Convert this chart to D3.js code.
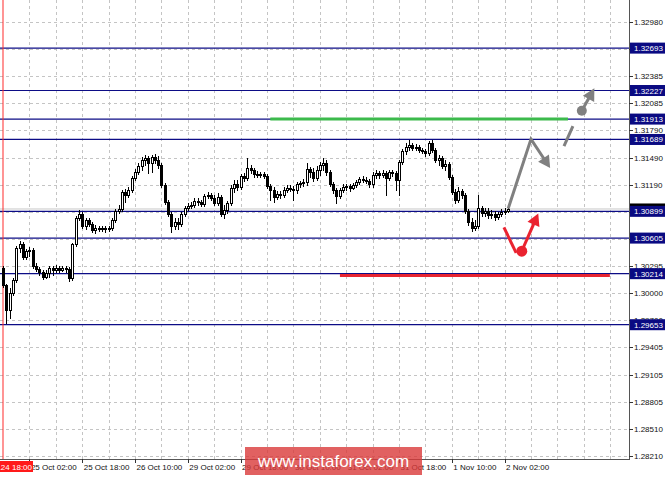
<!DOCTYPE html>
<html><head><meta charset="utf-8">
<script src="https://cdn.jsdelivr.net/npm/d3@7"></script>
<style>body{margin:0;background:#fff;} svg{display:block;font-family:"Liberation Sans",Arial,sans-serif;}</style>
</head><body><svg id="c" width="665" height="477"></svg>
<script>
// ---- DATA (EURUSD-like H1 candles, bar index 0 = 24 Oct 18:00) ----
const open = [1.30274,1.30087,1.29812,1.29999,1.30142,1.30494,1.30538,1.30395,1.30461,1.30472,
 1.30296,1.30263,1.30230,1.30175,1.30219,1.30274,1.30252,1.30274,1.30252,1.30274,
 1.30263,1.30164,1.30538,1.30824,1.30868,1.30736,1.30802,1.30758,1.30692,1.30714,
 1.30703,1.30714,1.30703,1.30714,1.30802,1.30901,1.30923,1.31110,1.31077,1.31132,
 1.31264,1.31330,1.31396,1.31462,1.31484,1.31429,1.31495,1.31462,1.31407,1.31187,
 1.31000,1.30868,1.30736,1.30780,1.30758,1.30868,1.30934,1.30956,1.30967,1.31011,
 1.31000,1.30978,1.31066,1.31077,1.31044,1.30989,1.31055,1.30868,1.30912,1.30989,
 1.31154,1.31198,1.31165,1.31286,1.31264,1.31374,1.31352,1.31308,1.31297,1.31308,
 1.31286,1.31176,1.31132,1.31055,1.31088,1.31077,1.31132,1.31154,1.31143,1.31132,
 1.31198,1.31209,1.31220,1.31363,1.31330,1.31264,1.31352,1.31407,1.31429,1.31330,
 1.31198,1.31132,1.31066,1.31132,1.31165,1.31176,1.31154,1.31187,1.31220,1.31253,
 1.31242,1.31231,1.31198,1.31297,1.31319,1.31297,1.31319,1.31264,1.31330,1.31319,
 1.31242,1.31440,1.31561,1.31605,1.31627,1.31594,1.31605,1.31572,1.31561,1.31539,
 1.31649,1.31572,1.31462,1.31484,1.31396,1.31418,1.31275,1.31110,1.31022,1.31121,
 1.31077,1.30901,1.30780,1.30714,1.30736,1.30934,1.30879,1.30901,1.30857,1.30868,
 1.30835,1.30868,1.30890,1.30901];
const high = [1.30296,1.30098,1.30054,1.30164,1.30516,1.30571,1.30560,1.30483,1.30505,1.30494,
 1.30329,1.30285,1.30252,1.30252,1.30296,1.30296,1.30307,1.30296,1.30296,1.30296,
 1.30285,1.30549,1.30846,1.30912,1.30890,1.30824,1.30824,1.30780,1.30747,1.30736,
 1.30736,1.30736,1.30736,1.30824,1.30923,1.30967,1.31132,1.31143,1.31165,1.31286,
 1.31363,1.31429,1.31495,1.31517,1.31506,1.31517,1.31528,1.31506,1.31429,1.31209,
 1.31022,1.30890,1.30824,1.30824,1.30890,1.30956,1.30989,1.31000,1.31044,1.31044,
 1.31022,1.31088,1.31110,1.31099,1.31077,1.31099,1.31077,1.30967,1.31011,1.31187,
 1.31242,1.31242,1.31308,1.31319,1.31484,1.31407,1.31374,1.31341,1.31330,1.31330,
 1.31308,1.31198,1.31165,1.31121,1.31121,1.31165,1.31187,1.31187,1.31176,1.31220,
 1.31231,1.31253,1.31429,1.31385,1.31374,1.31396,1.31440,1.31484,1.31462,1.31352,
 1.31220,1.31154,1.31154,1.31198,1.31198,1.31198,1.31209,1.31242,1.31275,1.31286,
 1.31275,1.31253,1.31330,1.31352,1.31341,1.31352,1.31341,1.31352,1.31352,1.31341,
 1.31462,1.31583,1.31649,1.31682,1.31649,1.31638,1.31627,1.31594,1.31583,1.31671,
 1.31682,1.31594,1.31517,1.31506,1.31462,1.31440,1.31297,1.31143,1.31165,1.31143,
 1.31099,1.30923,1.30824,1.30802,1.31077,1.30956,1.30934,1.30934,1.30912,1.30901,
 1.30890,1.30923,1.30934,1.30945];
const low = [1.30065,1.29669,1.29724,1.29977,1.30120,1.30450,1.30373,1.30373,1.30406,1.30274,
 1.30241,1.30197,1.30153,1.30164,1.30175,1.30197,1.30230,1.30230,1.30241,1.30230,
 1.30131,1.30142,1.30516,1.30802,1.30714,1.30703,1.30736,1.30670,1.30659,1.30681,
 1.30681,1.30670,1.30681,1.30692,1.30780,1.30879,1.30901,1.31000,1.31055,1.31110,
 1.31242,1.31308,1.31352,1.31407,1.31319,1.31330,1.31429,1.31374,1.31165,1.30978,
 1.30846,1.30670,1.30703,1.30703,1.30736,1.30846,1.30912,1.30934,1.30945,1.30967,
 1.30956,1.30956,1.31044,1.31022,1.30967,1.30967,1.30846,1.30824,1.30879,1.30967,
 1.31110,1.31132,1.31143,1.31231,1.31242,1.31319,1.31275,1.31275,1.31275,1.31264,
 1.31154,1.31022,1.31000,1.31033,1.31044,1.31055,1.31110,1.31121,1.31022,1.31099,
 1.31165,1.31176,1.31187,1.31275,1.31231,1.31242,1.31297,1.31352,1.31297,1.31176,
 1.31099,1.30989,1.31044,1.31110,1.31132,1.31121,1.31143,1.31165,1.31198,1.31220,
 1.31209,1.31165,1.31165,1.31264,1.31264,1.31275,1.31077,1.31242,1.31286,1.31132,
 1.31077,1.31418,1.31528,1.31572,1.31572,1.31572,1.31550,1.31539,1.31506,1.31517,
 1.31550,1.31440,1.31407,1.31374,1.31352,1.31253,1.31088,1.30989,1.31000,1.31044,
 1.30879,1.30747,1.30681,1.30692,1.30714,1.30846,1.30846,1.30824,1.30824,1.30802,
 1.30813,1.30846,1.30868,1.30890];
const close = [1.30087,1.29812,1.29999,1.30142,1.30494,1.30538,1.30395,1.30461,1.30472,1.30296,
 1.30263,1.30230,1.30175,1.30219,1.30274,1.30252,1.30274,1.30252,1.30274,1.30263,
 1.30164,1.30538,1.30824,1.30868,1.30736,1.30802,1.30758,1.30692,1.30714,1.30703,
 1.30714,1.30703,1.30714,1.30802,1.30901,1.30923,1.31110,1.31077,1.31132,1.31264,
 1.31330,1.31396,1.31462,1.31484,1.31429,1.31495,1.31462,1.31407,1.31187,1.31000,
 1.30868,1.30736,1.30780,1.30758,1.30868,1.30934,1.30956,1.30967,1.31011,1.31000,
 1.30978,1.31066,1.31077,1.31044,1.30989,1.31055,1.30868,1.30912,1.30989,1.31154,
 1.31198,1.31165,1.31286,1.31264,1.31374,1.31352,1.31308,1.31297,1.31308,1.31286,
 1.31176,1.31132,1.31055,1.31088,1.31077,1.31132,1.31154,1.31143,1.31132,1.31198,
 1.31209,1.31220,1.31363,1.31330,1.31264,1.31352,1.31407,1.31429,1.31330,1.31198,
 1.31132,1.31066,1.31132,1.31165,1.31176,1.31154,1.31187,1.31220,1.31253,1.31242,
 1.31231,1.31198,1.31297,1.31319,1.31297,1.31319,1.31264,1.31330,1.31319,1.31242,
 1.31440,1.31561,1.31605,1.31627,1.31594,1.31605,1.31572,1.31561,1.31539,1.31649,
 1.31572,1.31462,1.31484,1.31396,1.31418,1.31275,1.31110,1.31022,1.31121,1.31077,
 1.30901,1.30780,1.30714,1.30736,1.30934,1.30879,1.30901,1.30857,1.30868,1.30835,
 1.30868,1.30890,1.30901,1.30923];

const timeTickBars = [0,8,24,40,56,72,88,104,120,136,152];
const timeTickLabels = ["2018.10.24 18:00","25 Oct 02:00","25 Oct 18:00","26 Oct 10:00","29 Oct 02:00",
  "29 Oct 18:00","30 Oct 10:00","31 Oct 02:00","31 Oct 18:00","1 Nov 10:00","2 Nov 02:00"];
const priceTicks = [1.32980,1.32680,1.32385,1.32085,1.31790,1.31490,1.31190,1.30895,1.30595,
  1.30295,1.30000,1.29700,1.29405,1.29105,1.28805,1.28510,1.28210];
const levels = [1.32693,1.32227,1.31913,1.31689,1.30899,1.30605,1.30214,1.29653];
const bidPrice = 1.30925;
const greenLine = [[81, 1.31913],[171.2, 1.31913]];
const redLine = [[102.1, 1.30195],[183.9, 1.30195]];
const grayPath = [[153.1, 1.30931],[160, 1.31693],[165.8, 1.31374]];
const grayDash = [[170, 1.31616],[172.7, 1.31836]];
const grayDot = [175.4, 1.32004];
const grayTip = [179.2, 1.32251];
const redPath = [[151.8, 1.30722],[155.5, 1.30442]];
const redDot = [157.2, 1.30461];
const redTip = [162.2, 1.30876];

// ---- CHART ----
const W = 665, H = 477, plotR = 629, plotB = 459;
const svg = d3.select('#c');
const x = d3.scaleLinear().domain([0, 184]).range([3, 610.2]);
const y = d3.scaleLinear().domain([1.28210, 1.32980]).range([456, 22]);

svg.append('rect').attr('width', W).attr('height', H).attr('fill', '#fff');

// grid
const gridBars = d3.range(8, 185, 8);
svg.append('g').selectAll('line').data(gridBars).join('line')
  .attr('x1', d => Math.round(x(d)) + 0.5).attr('x2', d => Math.round(x(d)) + 0.5)
  .attr('y1', 0).attr('y2', plotB)
  .attr('stroke', '#c4c4c4').attr('stroke-dasharray', '3,3').attr('shape-rendering', 'crispEdges');
svg.append('g').selectAll('line').data(priceTicks).join('line')
  .attr('x1', 0).attr('x2', plotR)
  .attr('y1', d => Math.round(y(d)) + 0.5).attr('y2', d => Math.round(y(d)) + 0.5)
  .attr('stroke', '#c4c4c4').attr('stroke-dasharray', '3,3').attr('shape-rendering', 'crispEdges');

// bid line
svg.append('line').attr('x1', 0).attr('x2', plotR).attr('y1', y(bidPrice)).attr('y2', y(bidPrice))
  .attr('stroke', '#c8c8c8').attr('stroke-width', 1);

// level lines
svg.append('g').selectAll('line').data(levels).join('line')
  .attr('x1', 0).attr('x2', plotR).attr('y1', d => y(d)).attr('y2', d => y(d))
  .attr('stroke', '#0c0c86').attr('stroke-width', 1.2);

// red period separator
svg.append('line').attr('x1', x(0)).attr('x2', x(0)).attr('y1', 0).attr('y2', plotB)
  .attr('stroke', '#ff3030').attr('stroke-width', 1.2).attr('opacity', 0.85);

// candles
const bars = d3.range(close.length).map(i => ({i, o: open[i], h: high[i], l: low[i], c: close[i]}));
const cg = svg.append('g').attr('shape-rendering', 'crispEdges');
cg.selectAll('line').data(bars).join('line')
  .attr('x1', d => Math.round(x(d.i)) + 0.5).attr('x2', d => Math.round(x(d.i)) + 0.5)
  .attr('y1', d => Math.round(y(d.h))).attr('y2', d => Math.round(y(d.l)) + 1)
  .attr('stroke', '#000');
cg.selectAll('rect').data(bars).join('rect')
  .attr('x', d => Math.round(x(d.i)) - 0.5)
  .attr('y', d => Math.round(y(Math.max(d.o, d.c))) + 0.5)
  .attr('width', 2)
  .attr('height', d => Math.max(0.01, Math.round(y(Math.min(d.o, d.c))) - Math.round(y(Math.max(d.o, d.c)))))
  .attr('fill', d => d.c >= d.o ? '#fff' : '#000')
  .attr('stroke', '#000').attr('stroke-width', 1);

// green & red horizontal lines
const line = d3.line().x(d => x(d[0])).y(d => y(d[1]));
svg.append('path').attr('d', line(greenLine)).attr('stroke', '#3cba4c').attr('stroke-width', 3).attr('fill', 'none');
svg.append('path').attr('d', line(redLine)).attr('stroke', '#e82530').attr('stroke-width', 3).attr('fill', 'none');

// arrows
function arrowHead(g, from, tip, color, len, half) {
  const x1 = x(from[0]), y1 = y(from[1]), x2 = x(tip[0]), y2 = y(tip[1]);
  const a = Math.atan2(y2 - y1, x2 - x1);
  const bx = x2 - len * Math.cos(a), by = y2 - len * Math.sin(a);
  const px = -Math.sin(a) * half, py = Math.cos(a) * half;
  g.append('path').attr('d', `M${x2},${y2}L${bx + px},${by + py}L${bx - px},${by - py}Z`).attr('fill', color);
  return [bx + 2 * Math.cos(a), by + 2 * Math.sin(a)];
}
function arrowLine(pts, color) {
  const n = pts.length;
  const g = svg.append('g');
  const base = arrowHead(g, pts[n - 2], pts[n - 1], color, 12, 6.5);
  const px = pts.slice(0, n - 1).map(p => [x(p[0]), y(p[1])]);
  px.push(base);
  g.insert('path', ':first-child').attr('d', d3.line()(px)).attr('stroke', color).attr('stroke-width', 3)
    .attr('fill', 'none').attr('stroke-linejoin', 'miter');
}
const GRAY = '#808080', RED = '#ea2330';
arrowLine(grayPath, GRAY);
svg.append('path').attr('d', line(grayDash)).attr('stroke', GRAY).attr('stroke-width', 3).attr('fill', 'none');
arrowLine([grayDot, grayTip], GRAY);
svg.append('circle').attr('cx', x(grayDot[0])).attr('cy', y(grayDot[1])).attr('r', 5).attr('fill', GRAY);
svg.append('path').attr('d', line(redPath)).attr('stroke', RED).attr('stroke-width', 3).attr('fill', 'none');
arrowLine([redDot, redTip], RED);
svg.append('circle').attr('cx', x(redDot[0])).attr('cy', y(redDot[1])).attr('r', 5.5).attr('fill', RED);

// axes frame
svg.append('line').attr('x1', plotR + 0.5).attr('x2', plotR + 0.5).attr('y1', 0).attr('y2', plotB + 0.5)
  .attr('stroke', '#555').attr('shape-rendering', 'crispEdges');
svg.append('line').attr('x1', 0).attr('x2', plotR + 0.5).attr('y1', plotB + 0.5).attr('y2', plotB + 0.5)
  .attr('stroke', '#555').attr('shape-rendering', 'crispEdges');

// price ticks
const pt = svg.append('g');
pt.selectAll('line').data(priceTicks).join('line')
  .attr('x1', plotR).attr('x2', plotR + 4).attr('y1', d => Math.round(y(d)) + 0.5).attr('y2', d => Math.round(y(d)) + 0.5)
  .attr('stroke', '#333').attr('shape-rendering', 'crispEdges');
pt.selectAll('text').data(priceTicks).join('text')
  .attr('x', 634).attr('y', d => y(d) + 3).attr('font-size', 8).attr('fill', '#111')
  .text(d => d.toFixed(5));

// bid box (mostly hidden) and level boxes
svg.append('rect').attr('x', 630).attr('y', y(bidPrice) - 5.5).attr('width', 35).attr('height', 11).attr('fill', '#000');
const lb = svg.append('g');
lb.selectAll('rect').data(levels).join('rect')
  .attr('x', 630).attr('y', d => y(d) - 5.5).attr('width', 35).attr('height', 11).attr('fill', '#0a0a82');
lb.selectAll('text').data(levels).join('text')
  .attr('x', 634).attr('y', d => y(d) + 3).attr('font-size', 8).attr('fill', '#fff')
  .text(d => d.toFixed(5));

// time axis
const tg = svg.append('g');
tg.selectAll('line').data(timeTickBars.slice(1)).join('line')
  .attr('x1', d => Math.round(x(d)) + 0.5).attr('x2', d => Math.round(x(d)) + 0.5)
  .attr('y1', plotB).attr('y2', plotB + 4).attr('stroke', '#333').attr('shape-rendering', 'crispEdges');
tg.selectAll('text').data(timeTickBars.slice(1)).join('text')
  .attr('x', d => x(d) + 1.5).attr('y', 470).attr('font-size', 8).attr('fill', '#111')
  .text((d, i) => timeTickLabels[i + 1]);
// red current-separator label
svg.append('rect').attr('x', 0).attr('y', 461).attr('width', x(0) + 30).attr('height', 11).attr('fill', '#ff1a1a');
svg.append('text').attr('x', x(0) + 29).attr('y', 470).attr('text-anchor', 'end').attr('font-size', 8)
  .attr('fill', '#fff').text(timeTickLabels[0]);

// watermark
svg.append('rect').attr('x', 245).attr('y', 447).attr('width', 177).attr('height', 28)
  .attr('fill', '#d93a3a').attr('opacity', 0.8);
svg.append('text').attr('x', 333.5).attr('y', 467).attr('text-anchor', 'middle').attr('font-size', 17)
  .attr('fill', '#fff').text('www.instaforex.com');
</script></body></html>
